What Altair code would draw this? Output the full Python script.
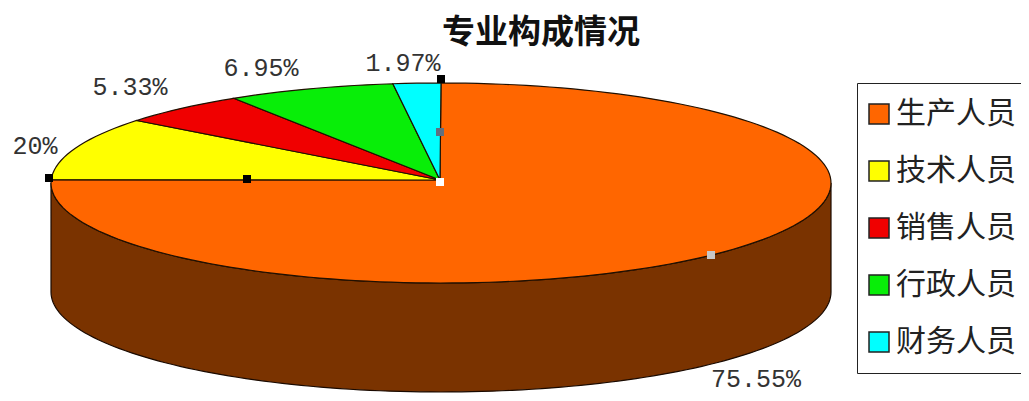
import math
import altair as alt

title_text = "专业构成情况"
categories = ["生产人员", "技术人员", "销售人员", "行政人员", "财务人员"]
shares = [75.55, 10.20, 5.33, 6.95, 1.97]
label_texts = ["75.55%", "20%", "5.33%", "6.95%", "1.97%"]
fills = ["#ff6600", "#ffff00", "#f00000", "#08ee08", "#00ffff"]
wall_colour = "#7a3300"

# The picture's geometry, in page pixels
cx, cy, rx, ry = 441, 183, 390, 100
apex_x, apex_y = 440, 180
depth = 110
label_x = [756, 35, 130, 261, 403]
label_y = [379, 146, 87, 68, 63]
handle_x = [441, 247, 49, 440, 711, 440]
handle_y = [79, 179, 178, 182, 255, 132]
handle_colours = ["#000000", "#000000", "#000000", "#ffffff", "#c8c8c8", "#607080"]
OFF = 8


def geo(px, py):
    return [px - OFF, -(py - OFF)]


def rim(turn, dy=0):
    a = 2 * math.pi * turn
    return geo(cx + rx * math.sin(a), cy + dy - ry * math.cos(a))


def feature(points, name):
    return {
        "type": "Feature",
        "geometry": {"type": "Polygon", "coordinates": [points + [points[0]]]},
        "properties": {"name": name},
    }


features = []
start = 0.0
for name, share in zip(categories, shares):
    steps = max(4, int(share * 2))
    pts = [geo(apex_x, apex_y)]
    pts += [rim(start + share / 100 * i / steps) for i in range(steps + 1)]
    features.append(feature(pts, name))
    start += share / 100

wall_top = [rim(0.25 + 0.5 * i / 120) for i in range(121)]
wall_bottom = [rim(0.75 - 0.5 * i / 120, depth - 1) for i in range(121)]
wall = feature(wall_top + wall_bottom, "wall")

proj = dict(type="identity", reflectY=True, scale=1, translate=[0, 0])

wall_layer = (
    alt.Chart(alt.Data(values=[wall]))
    .mark_geoshape(fill=wall_colour, stroke="#1a0a00", strokeWidth=1.2)
    .project(**proj)
)
slice_layer = (
    alt.Chart(alt.Data(values=features))
    .mark_geoshape(stroke="#201000", strokeWidth=1.2)
    .encode(
        color=alt.Color(
            "properties.name:N",
            scale=alt.Scale(domain=categories, range=fills),
            sort=categories,
            legend=alt.Legend(
                title=None,
                orient="none",
                legendX=849,
                legendY=75,
                padding=16,
                strokeColor="#222222",
                fillColor="#ffffff",
                symbolType="square",
                symbolSize=400,
                symbolStrokeColor="#222222",
                symbolStrokeWidth=1.5,
                symbolOpacity=1,
                symbolOffset=-9,
                labelFont="Noto Sans CJK SC",
                labelFontSize=30,
                labelColor="#222222",
                labelLimit=200,
                labelOffset=2,
                rowPadding=27,
            ),
        )
    )
    .project(**proj)
)

handles = [
    {"lon": geo(x, y)[0], "lat": geo(x, y)[1], "c": c}
    for x, y, c in zip(handle_x, handle_y, handle_colours)
]
handle_layer = (
    alt.Chart(alt.Data(values=handles))
    .mark_square(size=64, opacity=1)
    .encode(
        longitude="lon:Q",
        latitude="lat:Q",
        fill=alt.Fill("c:N", scale=None),
    )
    .project(**proj)
)

labels = [
    {"lon": geo(x, y)[0], "lat": geo(x, y)[1], "t": t}
    for x, y, t in zip(label_x, label_y, label_texts)
]
label_layer = (
    alt.Chart(alt.Data(values=labels))
    .mark_text(font="Liberation Mono", fontSize=25, color="#333333", baseline="middle")
    .encode(longitude="lon:Q", latitude="lat:Q", text="t:N")
    .project(**proj)
)

title_pos = geo(541, 33)
title_layer = (
    alt.Chart(alt.Data(values=[{"lon": title_pos[0], "lat": title_pos[1], "t": title_text}]))
    .mark_text(font="Noto Sans CJK SC", fontSize=33, fontWeight="bold", color="#111111", baseline="middle")
    .encode(longitude="lon:Q", latitude="lat:Q", text="t:N")
    .project(**proj)
)

chart = (
    alt.layer(wall_layer, slice_layer, handle_layer, label_layer, title_layer)
    .properties(width=1013, height=385, autosize=alt.AutoSizeParams(type="none"), padding=0, background="#ffffff")
    .configure_view(stroke=None)
)
chart.save("out.html", embed_options={"renderer": "svg", "actions": False})
